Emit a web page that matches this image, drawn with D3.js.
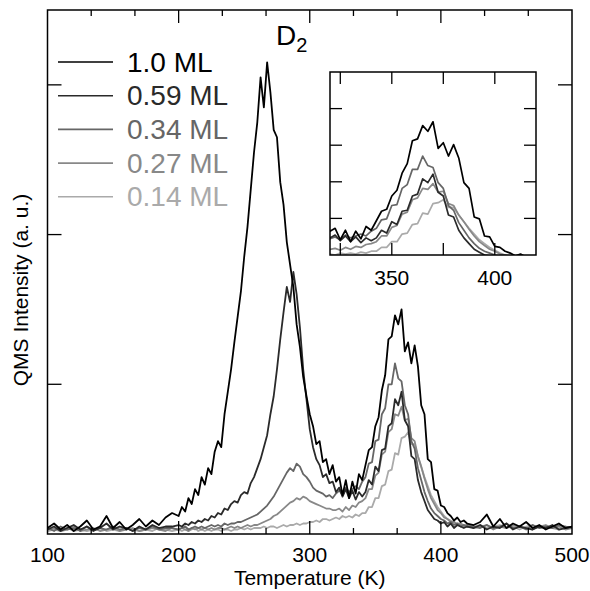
<!DOCTYPE html>
<html>
<head>
<meta charset="utf-8">
<script src="https://cdn.jsdelivr.net/npm/d3@7"></script>
<style>
  body { margin: 0; background: #fff; }
  text { font-family: "Liberation Sans", Arial, sans-serif; }
</style>
</head>
<body>
<div id="chart1"></div>
<script>
// temperature grid (K): coarse at the ends, finer where the peaks are
const temps = [].concat(d3.range(100, 201, 5), d3.range(202.5, 420.1, 2.5), d3.range(425, 501, 5));

const seriesNames = ["1.0 ML", "0.59 ML", "0.34 ML", "0.27 ML", "0.14 ML"];
const seriesColors = ["#000000", "#2a2a2a", "#666666", "#888888", "#aaaaaa"];

const ml100 = [
    0.04, 0.07, 0.03, 0.06, 0.02, 0.05, 0.09, 0.03, 0.05, 0.12, 0.04, 0.08, 0.03, 0.06, 0.10, 0.05, 0.09, 0.06, 0.11, 0.14, 0.12,
    0.18, 0.15, 0.24, 0.20, 0.30, 0.26, 0.38, 0.33,
    0.44, 0.40, 0.55, 0.62, 0.58, 0.80, 0.95, 1.10,
    1.28, 1.45, 1.62, 1.85, 2.05, 2.30, 2.55, 2.75,
    3.05, 2.85, 3.15, 2.95, 2.70, 2.65, 2.35, 2.20,
    1.95, 1.80, 1.65, 1.40, 1.25, 1.05, 0.92, 0.80,
    0.72, 0.60, 0.62, 0.48, 0.50, 0.40, 0.46, 0.35,
    0.38, 0.26, 0.36, 0.24, 0.35, 0.27, 0.40, 0.36,
    0.46, 0.56, 0.58, 0.72, 0.78, 0.96, 1.06, 1.30,
    1.32, 1.46, 1.40, 1.50, 1.22, 1.28, 1.14, 1.26,
    1.12, 0.86, 0.80, 0.50, 0.48, 0.30, 0.29, 0.19,
    0.18, 0.14, 0.12, 0.09, 0.11, 0.08, 0.09, 0.07,
    0.06, 0.08, 0.13, 0.05, 0.10, 0.04, 0.07, 0.05, 0.08, 0.04, 0.06, 0.03, 0.05, 0.07, 0.04, 0.05
];
const ml059 = [
    0.03, 0.05, 0.02, 0.04, 0.06, 0.03, 0.05, 0.02, 0.04, 0.07, 0.03, 0.05, 0.04, 0.02, 0.05, 0.03, 0.06, 0.04, 0.05, 0.05, 0.06,
    0.05, 0.07, 0.06, 0.08, 0.07, 0.09, 0.08, 0.10,
    0.09, 0.12, 0.11, 0.14, 0.13, 0.17, 0.16, 0.20,
    0.22, 0.21, 0.26, 0.28, 0.27, 0.34, 0.38, 0.44,
    0.50, 0.58, 0.66, 0.80, 0.92, 1.10, 1.30, 1.48,
    1.65, 1.55, 1.75, 1.60, 1.38, 1.10, 0.90, 0.70,
    0.58, 0.50, 0.46, 0.38, 0.40, 0.34, 0.35, 0.28,
    0.31, 0.25, 0.30, 0.24, 0.29, 0.23, 0.28, 0.25,
    0.28, 0.36, 0.33, 0.45, 0.42, 0.56, 0.57, 0.72,
    0.74, 0.90, 0.86, 0.95, 0.76, 0.72, 0.52, 0.50,
    0.36, 0.28, 0.22, 0.16, 0.13, 0.10, 0.09, 0.07,
    0.08, 0.05, 0.07, 0.04, 0.06, 0.05, 0.04, 0.05,
    0.04, 0.06, 0.03, 0.05, 0.04, 0.07, 0.03, 0.05, 0.04, 0.03, 0.05, 0.04, 0.06, 0.03, 0.04, 0.05
];
const ml034 = [
    0.04, 0.02, 0.05, 0.03, 0.04, 0.02, 0.05, 0.03, 0.04, 0.03, 0.05, 0.03, 0.04, 0.02, 0.04, 0.03, 0.05, 0.03, 0.04, 0.04, 0.03,
    0.04, 0.05, 0.03, 0.04, 0.05, 0.04, 0.05, 0.04,
    0.05, 0.06, 0.05, 0.06, 0.05, 0.07, 0.06, 0.07,
    0.07, 0.08, 0.08, 0.09, 0.10, 0.11, 0.12, 0.13,
    0.15, 0.17, 0.19, 0.22, 0.25, 0.29, 0.33, 0.37,
    0.41, 0.44, 0.42, 0.47, 0.45, 0.40, 0.38, 0.35,
    0.31, 0.29, 0.28, 0.27, 0.25, 0.26, 0.24, 0.27,
    0.29, 0.26, 0.31, 0.28, 0.30, 0.32, 0.30, 0.35,
    0.38, 0.47, 0.48, 0.62, 0.63, 0.80, 0.84, 1.00,
    1.00, 1.14, 1.04, 1.02, 0.86, 0.80, 0.62, 0.57,
    0.44, 0.36, 0.28, 0.22, 0.17, 0.14, 0.12, 0.10,
    0.09, 0.07, 0.08, 0.06, 0.07, 0.05, 0.06, 0.05,
    0.05, 0.04, 0.06, 0.04, 0.05, 0.07, 0.04, 0.05, 0.03, 0.06, 0.04, 0.05, 0.04, 0.06, 0.05, 0.04
];
const ml027 = [
    0.03, 0.04, 0.02, 0.03, 0.05, 0.02, 0.03, 0.04, 0.02, 0.03, 0.04, 0.02, 0.03, 0.04, 0.02, 0.03, 0.04, 0.03, 0.02, 0.04, 0.03,
    0.04, 0.03, 0.02, 0.04, 0.03, 0.04, 0.03, 0.04,
    0.03, 0.04, 0.03, 0.04, 0.04, 0.03, 0.04, 0.05,
    0.04, 0.05, 0.04, 0.05, 0.06, 0.05, 0.06, 0.06,
    0.07, 0.08, 0.09, 0.10, 0.12, 0.13, 0.15, 0.17,
    0.19, 0.21, 0.22, 0.24, 0.23, 0.25, 0.24, 0.22,
    0.21, 0.20, 0.19, 0.18, 0.17, 0.17, 0.16, 0.16,
    0.17, 0.15, 0.18, 0.16, 0.19, 0.18, 0.21, 0.22,
    0.24, 0.30, 0.30, 0.39, 0.41, 0.53, 0.55, 0.68,
    0.70, 0.80, 0.79, 0.85, 0.76, 0.77, 0.64, 0.62,
    0.52, 0.45, 0.37, 0.30, 0.24, 0.20, 0.16, 0.14,
    0.11, 0.10, 0.08, 0.08, 0.06, 0.07, 0.05, 0.06,
    0.04, 0.05, 0.06, 0.03, 0.05, 0.04, 0.06, 0.05, 0.04, 0.03, 0.05, 0.06, 0.04, 0.05, 0.03, 0.04
];
const ml014 = [
    0.02, 0.03, 0.02, 0.04, 0.02, 0.03, 0.02, 0.03, 0.04, 0.02, 0.03, 0.02, 0.04, 0.03, 0.02, 0.03, 0.02, 0.04, 0.03, 0.02, 0.03,
    0.02, 0.03, 0.02, 0.03, 0.04, 0.02, 0.03, 0.02,
    0.03, 0.02, 0.03, 0.03, 0.02, 0.03, 0.03, 0.02,
    0.03, 0.03, 0.04, 0.03, 0.04, 0.03, 0.04, 0.04,
    0.04, 0.05, 0.04, 0.05, 0.05, 0.04, 0.05, 0.06,
    0.05, 0.06, 0.06, 0.07, 0.06, 0.07, 0.07, 0.08,
    0.08, 0.09, 0.08, 0.10, 0.10, 0.09, 0.10, 0.11,
    0.10, 0.12, 0.11, 0.12, 0.11, 0.13, 0.12, 0.14,
    0.14, 0.18, 0.18, 0.24, 0.24, 0.32, 0.33, 0.42,
    0.43, 0.54, 0.53, 0.64, 0.65, 0.68, 0.60, 0.60,
    0.52, 0.45, 0.38, 0.32, 0.26, 0.22, 0.18, 0.15,
    0.12, 0.10, 0.09, 0.08, 0.07, 0.07, 0.06, 0.06,
    0.05, 0.06, 0.04, 0.05, 0.06, 0.04, 0.05, 0.03, 0.05, 0.06, 0.04, 0.05, 0.04, 0.03, 0.05, 0.04
];
const seriesValues = [ml100, ml059, ml034, ml027, ml014];

const xTickLabels = [100, 200, 300, 400, 500];
const insetTickLabels = [350, 400];

const width = 590, height = 591;
const frame = {left: 47.5, right: 572, top: 10, bottom: 534};
const inset = {left: 330, right: 536, top: 72, bottom: 255};

const svg = d3.select("#chart1")
    .append("svg")
    .attr("width", width)
    .attr("height", height);

const x = d3.scaleLinear().domain([100, 500]).range([frame.left, frame.right]);
const y = d3.scaleLinear().domain([0, 3.5]).range([frame.bottom, frame.top]);

// inset shows the 2nd peak magnified (offset + scale)
const ix = d3.scaleLinear().domain([320, 420]).range([inset.left, inset.right]);
const iy = d3.scaleLinear().domain([0.1, 0.1 + 5 / 2.6]).range([inset.bottom, inset.top]);

const defs = svg.append("defs");
defs.append("clipPath").attr("id", "clipMain")
    .append("rect")
    .attr("x", frame.left).attr("y", frame.top)
    .attr("width", frame.right - frame.left).attr("height", frame.bottom - frame.top);
defs.append("clipPath").attr("id", "clipInset")
    .append("rect")
    .attr("x", inset.left).attr("y", inset.top)
    .attr("width", inset.right - inset.left).attr("height", inset.bottom - inset.top);

const drawOrder = [4, 3, 2, 1, 0];

const mainLine = d3.line()
    .x(d => x(d[0]))
    .y(d => y(d[1]));

const main = svg.append("g").attr("clip-path", "url(#clipMain)");
drawOrder.forEach(i => {
    main.append("path")
        .datum(temps.map((t, j) => [t, seriesValues[i][j]]))
        .attr("d", mainLine)
        .attr("fill", "none")
        .attr("stroke", seriesColors[i])
        .attr("stroke-width", 1.8)
        .attr("stroke-linejoin", "round");
});

// main frame + ticks
svg.append("rect")
    .attr("x", frame.left).attr("y", frame.top)
    .attr("width", frame.right - frame.left).attr("height", frame.bottom - frame.top)
    .attr("fill", "none")
    .attr("stroke", "black")
    .attr("stroke-width", 1.5);

const xMinor = d3.range(1, 12).map(k => 100 + k * 100 / 3);
const ticks = svg.append("g").attr("stroke", "black").attr("stroke-width", 1.3);
xMinor.forEach((t, k) => {
    const len = (k + 1) % 3 === 0 ? 13 : 6;
    ticks.append("line")
        .attr("x1", x(t)).attr("x2", x(t))
        .attr("y1", frame.top).attr("y2", frame.top + len);
    ticks.append("line")
        .attr("x1", x(t)).attr("x2", x(t))
        .attr("y1", frame.bottom).attr("y2", frame.bottom - len);
});
[1, 2, 3].forEach(v => {
    ticks.append("line")
        .attr("x1", frame.left).attr("x2", frame.left + 14)
        .attr("y1", y(v)).attr("y2", y(v));
    ticks.append("line")
        .attr("x1", frame.right).attr("x2", frame.right - 14)
        .attr("y1", y(v)).attr("y2", y(v));
});

svg.selectAll(".xlabel")
    .data(xTickLabels)
    .enter()
    .append("text")
    .attr("class", "xlabel")
    .attr("x", d => x(d))
    .attr("y", 562)
    .attr("text-anchor", "middle")
    .attr("font-size", "21px")
    .text(d => d);

svg.append("text")
    .attr("x", (frame.left + frame.right) / 2)
    .attr("y", 585)
    .attr("text-anchor", "middle")
    .attr("font-size", "21px")
    .text("Temperature (K)");

svg.append("text")
    .attr("transform", `translate(28, 290) rotate(-90)`)
    .attr("text-anchor", "middle")
    .attr("font-size", "21px")
    .text("QMS Intensity (a. u.)");

// D2 title
const title = svg.append("text")
    .attr("x", 276)
    .attr("y", 45)
    .attr("font-size", "28px")
    .text("D");
title.append("tspan")
    .attr("font-size", "20px")
    .attr("dy", 7)
    .text("2");

// legend
const legend = svg.append("g");
seriesNames.forEach((name, i) => {
    const ly = 62 + i * 33.7;
    legend.append("line")
        .attr("x1", 58).attr("x2", 113)
        .attr("y1", ly).attr("y2", ly)
        .attr("stroke", seriesColors[i])
        .attr("stroke-width", 1.6);
    legend.append("text")
        .attr("x", 127)
        .attr("y", ly + 9.5)
        .attr("font-size", "28px")
        .attr("fill", seriesColors[i])
        .text(name);
});

// inset
svg.append("rect")
    .attr("x", inset.left).attr("y", inset.top)
    .attr("width", inset.right - inset.left).attr("height", inset.bottom - inset.top)
    .attr("fill", "white");

const insetLine = d3.line()
    .x(d => ix(d[0]))
    .y(d => iy(d[1]));

const insetG = svg.append("g").attr("clip-path", "url(#clipInset)");
drawOrder.forEach(i => {
    insetG.append("path")
        .datum(temps.map((t, j) => [t, seriesValues[i][j]]).filter(d => d[0] >= 315 && d[0] <= 425))
        .attr("d", insetLine)
        .attr("fill", "none")
        .attr("stroke", seriesColors[i])
        .attr("stroke-width", 1.7)
        .attr("stroke-linejoin", "round");
});

svg.append("rect")
    .attr("x", inset.left).attr("y", inset.top)
    .attr("width", inset.right - inset.left).attr("height", inset.bottom - inset.top)
    .attr("fill", "none")
    .attr("stroke", "black")
    .attr("stroke-width", 1.5);

const iTickY = d3.scaleLinear().domain([0, 5]).range([inset.bottom, inset.top]);
const iticks = svg.append("g").attr("stroke", "black").attr("stroke-width", 1.3);
[325, 350, 375, 400].forEach(t => {
    iticks.append("line")
        .attr("x1", ix(t)).attr("x2", ix(t))
        .attr("y1", inset.top).attr("y2", inset.top + 12);
    iticks.append("line")
        .attr("x1", ix(t)).attr("x2", ix(t))
        .attr("y1", inset.bottom).attr("y2", inset.bottom - 12);
});
[1, 2, 3, 4].forEach(v => {
    iticks.append("line")
        .attr("x1", inset.left).attr("x2", inset.left + 12)
        .attr("y1", iTickY(v)).attr("y2", iTickY(v));
    iticks.append("line")
        .attr("x1", inset.right).attr("x2", inset.right - 12)
        .attr("y1", iTickY(v)).attr("y2", iTickY(v));
});

svg.selectAll(".ilabel")
    .data(insetTickLabels)
    .enter()
    .append("text")
    .attr("class", "ilabel")
    .attr("x", d => ix(d))
    .attr("y", 285)
    .attr("text-anchor", "middle")
    .attr("font-size", "21px")
    .text(d => d);
</script>
</body>
</html>
